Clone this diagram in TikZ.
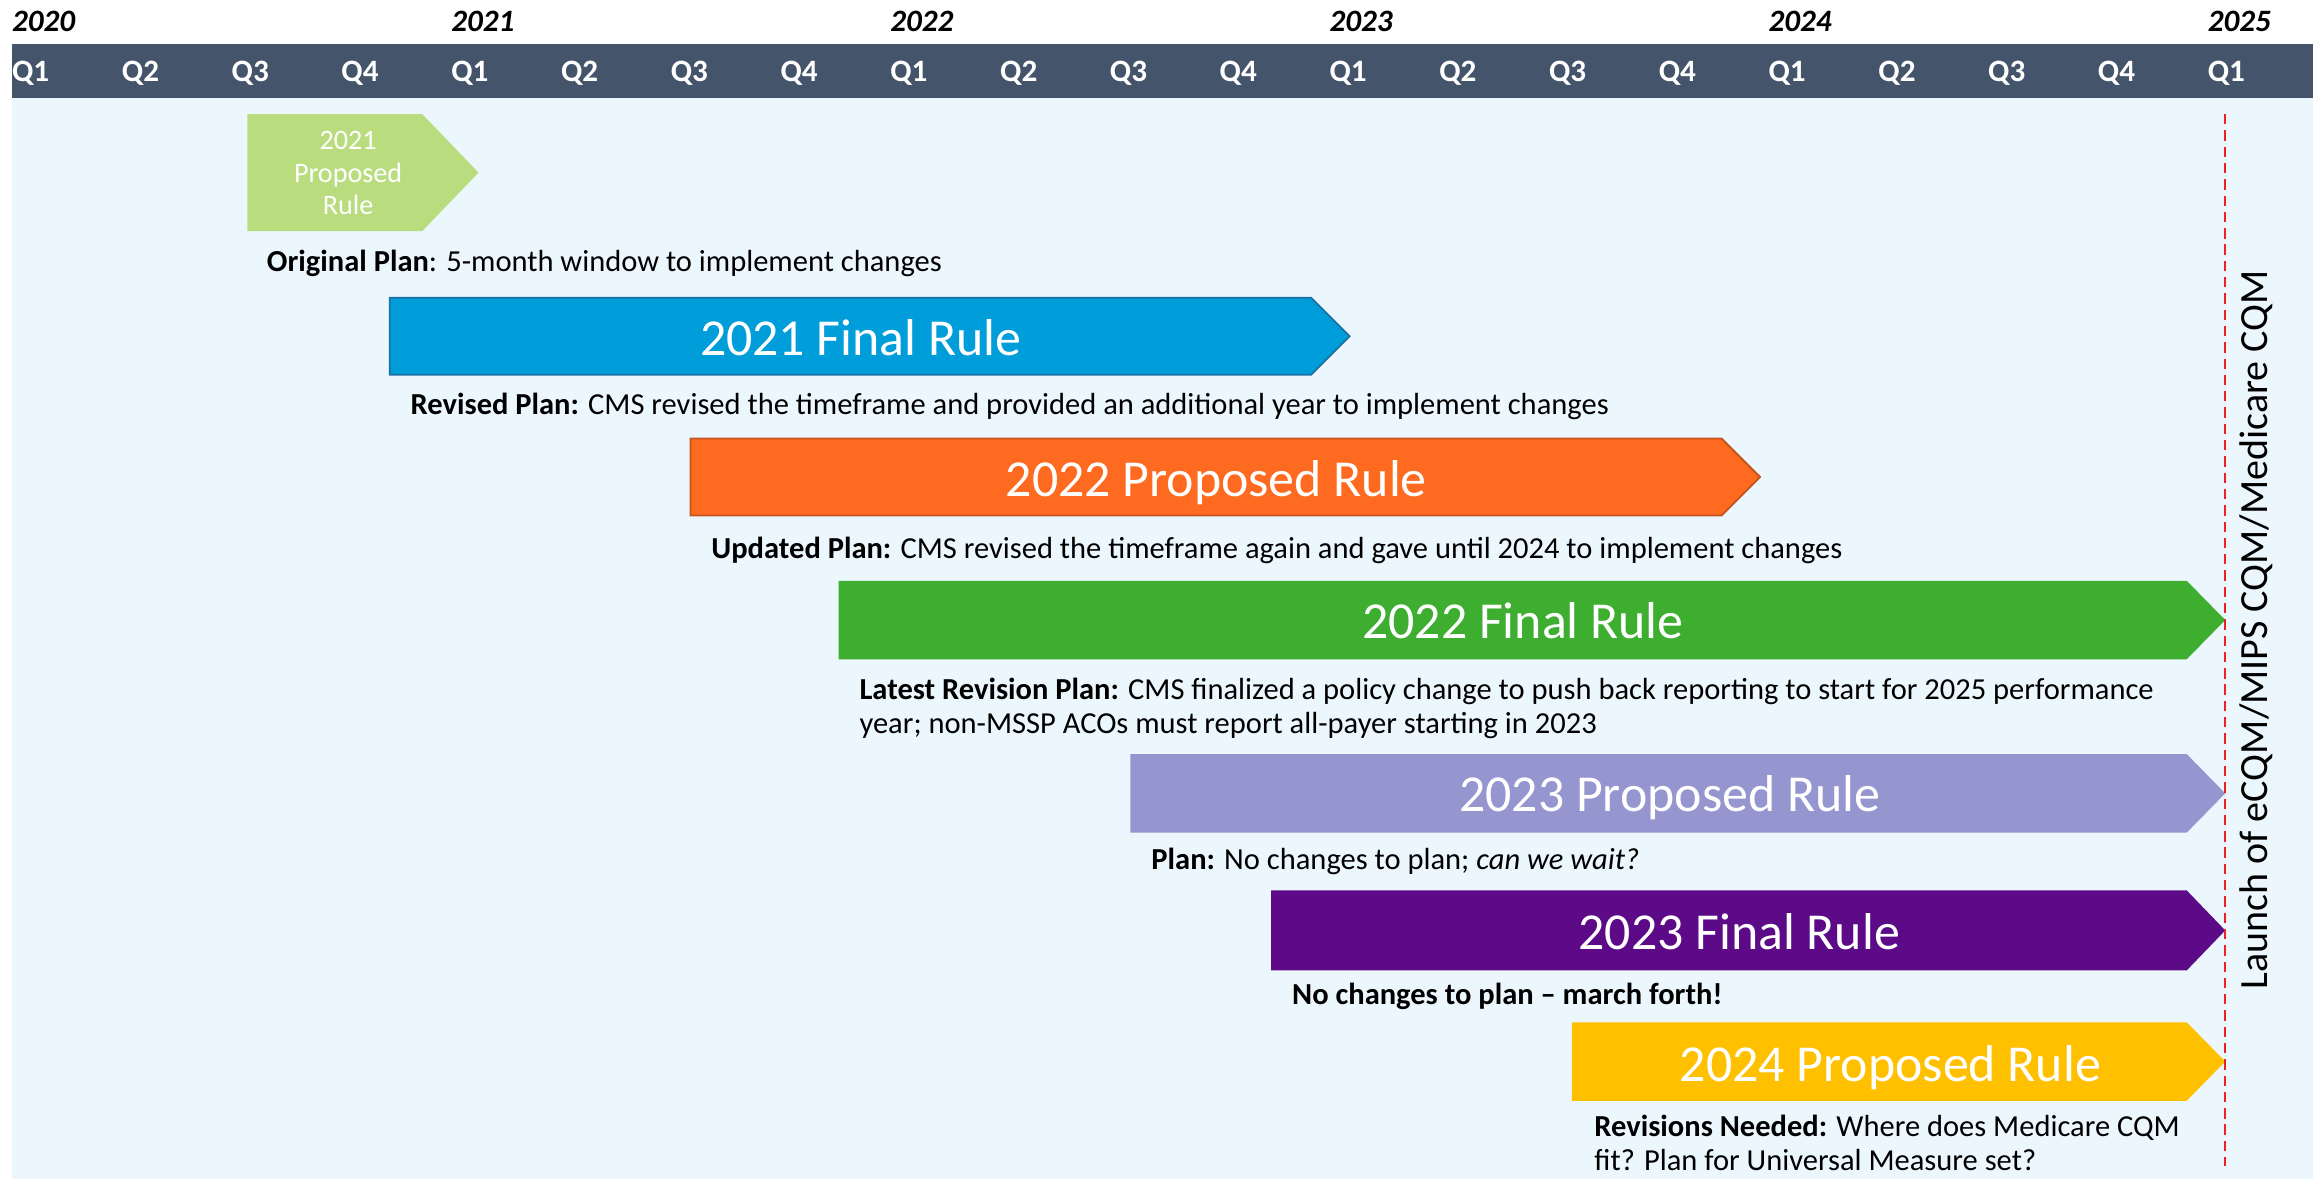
\documentclass[tikz,border=0pt]{standalone}
\usepackage{fontspec}
\setmainfont{Carlito}
\definecolor{band}{HTML}{44546A}
\definecolor{sky}{HTML}{ECF7FD}
\definecolor{lime}{HTML}{B9DD7E}
\definecolor{azure}{HTML}{009DDB}
\definecolor{azureline}{HTML}{1A72A3}
\definecolor{tangerine}{HTML}{FF6A21}
\definecolor{tangerineline}{HTML}{C2541D}
\definecolor{grass}{HTML}{3DAE2F}
\definecolor{lavender}{HTML}{9595CF}
\definecolor{plum}{HTML}{5C0A87}
\definecolor{amber}{HTML}{FFC000}
\definecolor{launchred}{HTML}{F02020}
\begin{document}
\begin{tikzpicture}[x=1pt,y=-1pt,
  quarter/.style={anchor=base west, text=white, inner sep=0pt,
    font=\fontsize{21}{25}\selectfont\bfseries},
  yearlbl/.style={anchor=base west, inner sep=0pt,
    font=\fontsize{21}{25}\selectfont\bfseries\itshape},
  ruletext/.style={anchor=base, text=white, inner sep=0pt,
    font=\fontsize{35}{42}\selectfont},
  note/.style={anchor=base west, inner sep=0pt,
    font=\fontsize{20.6}{23}\selectfont},
  ribbon/.style={line width=1.2pt}]

% page, timeline background and quarter band
\useasboundingbox (0,0) rectangle (1568,796);
\fill[white] (0,0) rectangle (1568,796);
\fill[sky] (8,66) rectangle (1561,796);
\fill[band] (8,30) rectangle (1561,66);

% quarter labels
\foreach \i/\q in {0/Q1,1/Q2,2/Q3,3/Q4,4/Q1,5/Q2,6/Q3,7/Q4,8/Q1,9/Q2,10/Q3,
                   11/Q4,12/Q1,13/Q2,14/Q3,15/Q4,16/Q1,17/Q2,18/Q3,19/Q4,20/Q1}
  \node[quarter] (q\i) at ({8+74.1*\i},55) {\q};

% year labels
\foreach \k/\yr in {0/2020,1/2021,2/2022,3/2023,4/2024,5/2025}
  \node[yearlbl] (yr\yr) at ({8+296.4*\k},21) {\yr};

% rule ribbons
\fill[lime] (167,77) -- (285,77) -- (323,116.5) -- (285,156) -- (167,156) -- cycle;
\filldraw[ribbon, fill=azure, draw=azureline] (263,201) -- (885,201) -- (911,227) -- (885,253) -- (263,253) -- cycle;
\filldraw[ribbon, fill=tangerine, draw=tangerineline] (466,296) -- (1162,296) -- (1188,322) -- (1162,348) -- (466,348) -- cycle;
\fill[grass] (566,392) -- (1476,392) -- (1502,418.5) -- (1476,445) -- (566,445) -- cycle;
\fill[lavender] (763,509) -- (1476,509) -- (1502,535.5) -- (1476,562) -- (763,562) -- cycle;
\fill[plum] (858,601) -- (1476,601) -- (1502,628) -- (1476,655) -- (858,655) -- cycle;
\fill[amber] (1061,690) -- (1476,690) -- (1502,716.5) -- (1476,743) -- (1061,743) -- cycle;

% ribbon titles
\node[text=white, align=center, inner sep=0pt,
      font=\fontsize{19}{22}\selectfont] (p2021) at (235,117) {2021\\Proposed\\Rule};
\node[ruletext] (f2021) at (581,240) {2021 Final Rule};
\node[ruletext] (p2022) at (821,335) {2022 Proposed Rule};
\node[ruletext] (f2022) at (1028,431) {2022 Final Rule};
\node[ruletext] (p2023) at (1127,548) {2023 Proposed Rule};
\node[ruletext] (f2023) at (1174,641) {2023 Final Rule};
\node[ruletext] (p2024) at (1276,730) {2024 Proposed Rule};

% plan notes
\node[note] (n1) at (180,183) {\textbf{Original Plan}: 5-month window to implement changes};
\node[note] (n2) at (277,280) {\textbf{Revised Plan:} CMS revised the timeframe and provided an additional year to implement changes};
\node[note] (n3) at (480,377) {\textbf{Updated Plan:} CMS revised the timeframe again and gave until 2024 to implement changes};
\node[note] (n4a) at (580,472) {\textbf{Latest Revision Plan:} CMS finalized a policy change to push back reporting to start for 2025 performance};
\node[note] (n4b) at (580,495) {year; non-MSSP ACOs must report all-payer starting in 2023};
\node[note] (n5) at (777,587) {\textbf{Plan:} No changes to plan; \textit{can we wait?}};
\node[note] (n6) at (872,678) {\textbf{No changes to plan – march forth!}};
\node[note] (n7a) at (1076,767) {\textbf{Revisions Needed:} Where does Medicare CQM};
\node[note] (n7b) at (1076,790) {fit? Plan for Universal Measure set?};

% launch marker
\coordinate (launchtop) at (1502,77);
\coordinate (launchbot) at (1502,787);
\draw[launchred, line width=1.1pt, dash pattern=on 7pt off 4pt] (launchtop) -- (launchbot);
\node[rotate=90, inner sep=0pt, font=\fontsize{27}{30}\selectfont] (launch) at (1523,425)
  {Launch of eCQM/MIPS CQM/Medicare CQM};
\end{tikzpicture}
\end{document}
